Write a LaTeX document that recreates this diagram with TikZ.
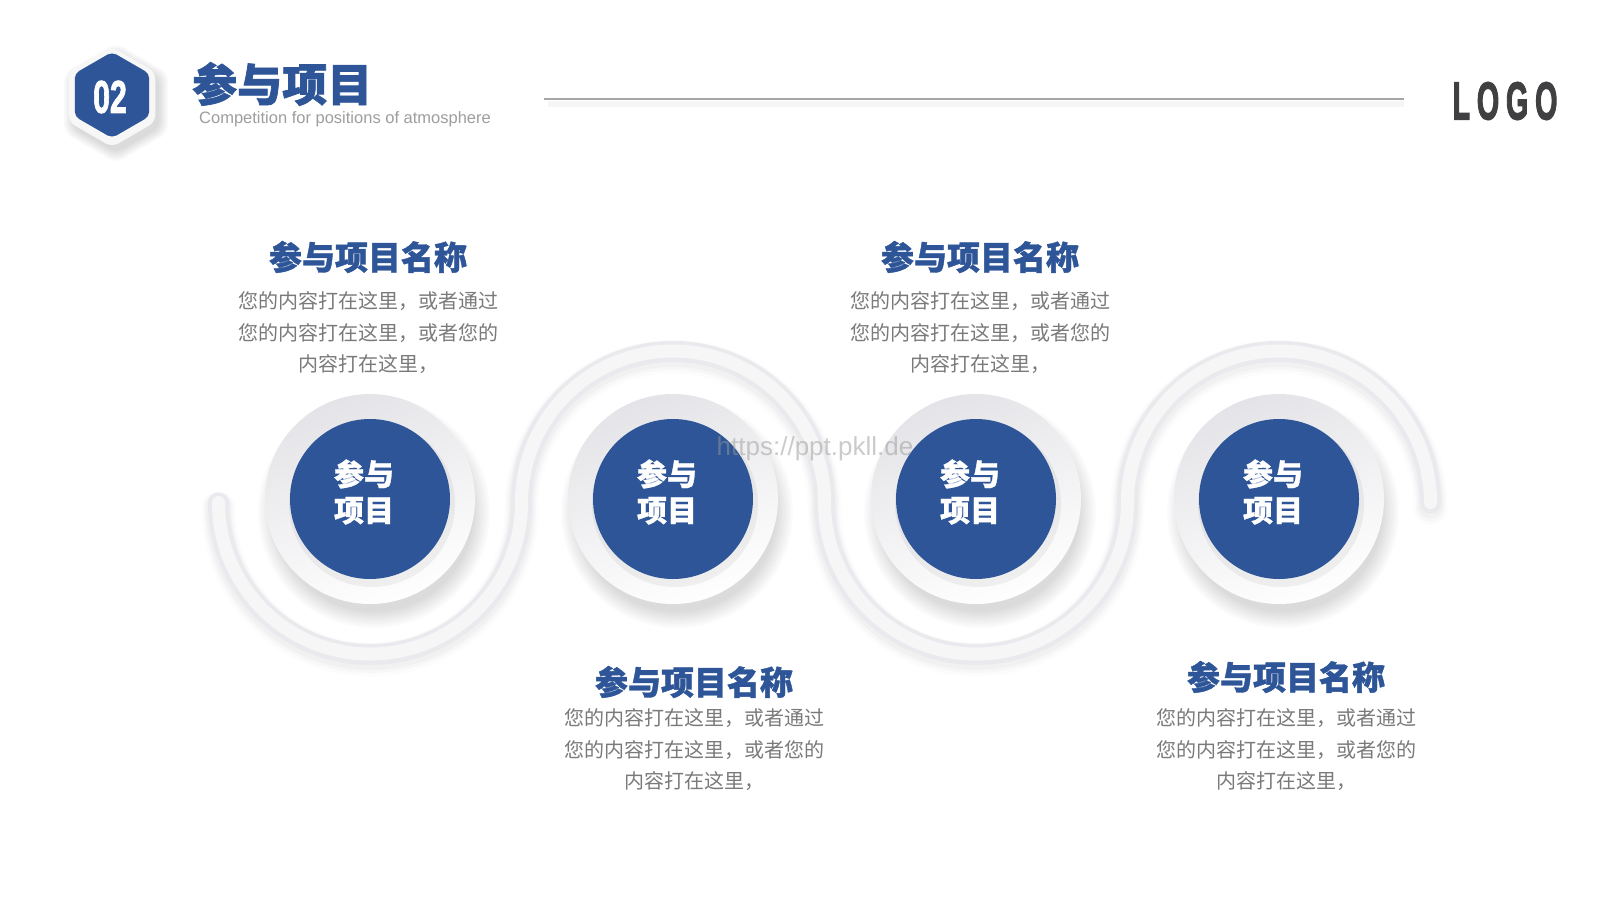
\documentclass[tikz,border=0pt]{standalone}
\usepackage{fontspec}
\setmainfont{Liberation Sans}
\newfontfamily\cjk{Noto Sans CJK SC}
\usetikzlibrary{calc}

\definecolor{projblue}{RGB}{45,85,151}
\definecolor{bodygray}{RGB}{122,122,122}
\definecolor{subgray}{RGB}{158,158,158}
\definecolor{logogray}{RGB}{64,64,66}
\definecolor{wavegray}{RGB}{234,234,238}
\definecolor{ringgray}{RGB}{228,228,232}

\tikzset{
  heading/.style={inner sep=0, text=projblue, font=\cjk\bfseries\addfontfeature{FakeBold=1.2}\fontsize{33}{36}\selectfont},
  bodytext/.style={inner sep=0, text=bodygray, align=center, font=\cjk\fontsize{20}{31.5}\selectfont},
  disclabel/.style={inner sep=0, text=white, align=center, font=\cjk\bfseries\addfontfeature{FakeBold=1}\fontsize{30}{36}\selectfont},
}

\begin{document}
\begin{tikzpicture}[x=1pt, y=-1pt]
    %----------------------------------------
    % PAGE (1600 x 900, y runs downward)
    %----------------------------------------
    \fill[white] (0,0) rectangle (1600,900);
    \useasboundingbox (0,0) rectangle (1600,900);

    %----------------------------------------
    % HEADER: badge, title, rule, logo
    %----------------------------------------
    \coordinate (badge) at (112,97);

    % soft shadow under the badge
    \foreach \k [evaluate=\k as \r using 48+2*\k] in {1,...,6}{
      \fill[black, opacity=0.022, rounded corners=8, shift={(116,103)}]
        (90:\r) -- (150:\r) -- (210:\r) -- (270:\r) -- (330:\r) -- (30:\r) -- cycle;
    }
    \fill[white!94!gray, rounded corners=7, shift={(badge)}]
      (90:50) -- (150:50) -- (210:50) -- (270:50) -- (330:50) -- (30:50) -- cycle;
    \fill[projblue, rounded corners=5, shift={(112,95)}]
      (90:43) -- (150:43) -- (210:43) -- (270:43) -- (330:43) -- (30:43) -- cycle;
    \node[inner sep=0, text=white, font=\bfseries\addfontfeature{FakeBold=2}\fontsize{46}{46}\selectfont]
      (num) at (110,97) {\scalebox{0.66}[1]{02}};

    \node[anchor=west, inner sep=0, text=projblue,
          font=\cjk\bfseries\addfontfeature{FakeBold=1.5}\fontsize{45}{48}\selectfont]
      (title) at (192,84) {参与项目};
    \node[anchor=west, inner sep=0, text=subgray, font=\fontsize{16.5}{18}\selectfont]
      (subtitle) at (199,119) {Competition for positions of atmosphere};

    % rule with a faint shadow
    \coordinate (ruleL) at (544,99);
    \coordinate (ruleR) at (1404,99);
    \draw[black, opacity=0.035, line width=6] ($(ruleL)+(4,5)$) -- ($(ruleR)+(0,5)$);
    \draw[gray!70, line width=2.5] (ruleL) -- (ruleR);

    \node[inner sep=0, text=logogray, font=\bfseries\fontsize{53}{53}\selectfont] (logo) at (1505,101)
      {\scalebox{0.54}[1]{\addfontfeature{LetterSpace=24,FakeBold=3}LOGO}};

    %----------------------------------------
    % WAVE behind the four discs
    % arcs of radius 151.5 round the disc centres
    %----------------------------------------
    \foreach \w/\c/\o/\dy in {
      % FORMAT: width / colour / opacity / yshift
        34/black/0.012/-5,
        29/black/0.018/-4,
        25/black/0.025/-3,
        21/wavegray/1/0,
        13/white!55!wavegray/1/0.5
    }{
      \draw[line width=\w, color=\c, opacity=\o, line cap=round, yshift=\dy]
        (218.5,503) arc[start angle=180, end angle=0, radius=151.5]
                    arc[start angle=180, end angle=360, radius=151.5]
                    arc[start angle=180, end angle=0, radius=151.5]
                    arc[start angle=180, end angle=360, radius=151.5];
    }

    %----------------------------------------
    % DISCS
    %----------------------------------------
    \foreach \n/\x in {1/370, 2/673, 3/976, 4/1279}{
      % drop shadow
      \foreach \k in {1,...,9}{
        \fill[black, opacity=0.014] (\x+4,512) circle (98+2*\k);
      }
      \shade[top color=ringgray, bottom color=white!97!ringgray, shading angle=20] (\x,499) circle (105);
      \fill[black, opacity=0.05] (\x+2,504) circle (83);
      \node[circle, fill=projblue, minimum size=160, inner sep=0] (c\n) at (\x,499) {};
      \node[disclabel] (l\n) at ($(c\n)+(-6,-7)$) {参与\\项目};
    }

    % watermark
    \node[inner sep=0, text=gray!80, opacity=0.5, font=\fontsize{26}{26}\selectfont] (mark) at (815,449)
      {https://ppt.pkll.de};

    %----------------------------------------
    % TEXT BLOCKS
    %----------------------------------------
    \foreach \n/\x/\ty/\by in {
      % FORMAT: block / x / heading y / body y
        1/368/257/333,
        2/980/257/333,
        3/694/682/750,
        4/1286/677/750
    }{
      \node[heading] (h\n) at (\x,\ty) {参与项目名称};
      \node[bodytext] (d\n) at (\x,\by)
        {您的内容打在这里，或者通过\\您的内容打在这里，或者您的\\内容打在这里，};
    }

\end{tikzpicture}
\end{document}
